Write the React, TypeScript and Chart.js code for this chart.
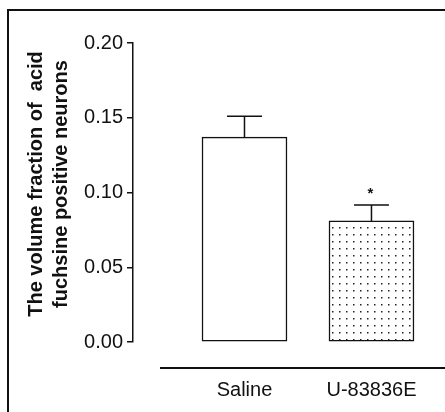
import React, { useEffect, useRef } from "react";
import { Chart, registerables } from "chart.js";

Chart.register(...registerables);

// ---- data ----
const categories = ["Saline", "U-83836E"];
const means = [0.137, 0.081];
const sems = [0.014, 0.0107];
const significance = ["", "*"];
const yTicks = [0, 0.05, 0.1, 0.15, 0.2];
const yTitleLines = ["The volume fraction of  acid", "fuchsine positive neurons"];

const FONT = '"Liberation Sans", Arial, Helvetica, sans-serif';
const INK = "#111111";

function makeDotPattern(ctx: CanvasRenderingContext2D) {
  const c = document.createElement("canvas");
  c.width = 7;
  c.height = 7;
  const g = c.getContext("2d")!;
  g.fillStyle = "#ffffff";
  g.fillRect(0, 0, 7, 7);
  g.fillStyle = "#222222";
  g.fillRect(3, 3, 1.5, 1.5);
  return ctx.createPattern(c, "repeat")!;
}

const errorBarPlugin = {
  id: "errorBars",
  afterDatasetsDraw(chart: any) {
    const { ctx, scales } = chart;
    const xs = scales.x;
    const ys = scales.y;
    ctx.save();
    ctx.strokeStyle = INK;
    ctx.lineWidth = 1.5;
    means.forEach((m, i) => {
      const x = xs.getPixelForValue(i);
      const yBar = ys.getPixelForValue(m);
      const yTop = ys.getPixelForValue(m + sems[i]);
      ctx.beginPath();
      ctx.moveTo(x, yBar);
      ctx.lineTo(x, yTop);
      ctx.moveTo(x - 17.5, yTop);
      ctx.lineTo(x + 17.5, yTop);
      ctx.stroke();
      if (significance[i]) {
        ctx.fillStyle = INK;
        ctx.font = `bold 15px ${FONT}`;
        ctx.textAlign = "center";
        ctx.textBaseline = "alphabetic";
        ctx.fillText(significance[i], x - 1, yTop - 7);
      }
    });
    ctx.restore();
  },
};

const decorPlugin = {
  id: "decor",
  afterDraw(chart: any) {
    const { ctx, chartArea, width } = chart;
    ctx.save();
    // detached baseline under the plot
    ctx.strokeStyle = INK;
    ctx.lineWidth = 2;
    const yl = chartArea.bottom + 26;
    ctx.beginPath();
    ctx.moveTo(chartArea.left + 27, yl);
    ctx.lineTo(width, yl);
    ctx.stroke();
    // y-axis title (two rotated lines)
    ctx.fillStyle = INK;
    ctx.font = `bold 20px ${FONT}`;
    ctx.textAlign = "center";
    ctx.textBaseline = "middle";
    const cy = 184;
    const xsPos = [36, 61];
    yTitleLines.forEach((line, i) => {
      ctx.save();
      ctx.translate(xsPos[i], cy);
      ctx.rotate(-Math.PI / 2);
      ctx.fillText(line, 0, 0);
      ctx.restore();
    });
    ctx.restore();
  },
};

export default function App() {
  const ref = useRef<HTMLCanvasElement>(null);
  useEffect(() => {
    const canvas = ref.current!;
    const ctx = canvas.getContext("2d")!;
    const dots = makeDotPattern(ctx);
    const chart = new Chart(ctx, {
      type: "bar",
      data: {
        datasets: [
          {
            data: means.map((m, i) => ({ x: i, y: m })),
            backgroundColor: ["#ffffff", dots],
            borderColor: INK,
            borderWidth: 1.5,
            borderSkipped: false,
            barThickness: 85,
          } as any,
        ],
      },
      options: {
        animation: false,
        responsive: false,
        devicePixelRatio: 1,
        layout: { padding: { top: 43, left: 0, right: 0, bottom: 0 } },
        plugins: { legend: { display: false }, tooltip: { enabled: false } },
        scales: {
          x: {
            type: "linear",
            min: -0.878,
            max: 1.579,
            offset: false,
            afterBuildTicks: (s: any) => {
              s.ticks = categories.map((_, i) => ({ value: i }));
            },
            afterFit: (s: any) => {
              s.height = 70;
              s.paddingLeft = 0;
              s.paddingRight = 0;
            },
            grid: { display: false, drawTicks: false },
            border: { display: false },
            ticks: {
              callback: (v: any) => categories[v] ?? "",
              font: { size: 20, family: FONT },
              color: INK,
              padding: 36,
              maxRotation: 0,
              autoSkip: false,
            },
          },
          y: {
            type: "linear",
            min: 0,
            max: 0.2,
            afterBuildTicks: (s: any) => {
              s.ticks = yTicks.map((v) => ({ value: v }));
            },
            afterFit: (s: any) => {
              s.width = 133;
            },
            grid: { drawOnChartArea: false, tickLength: 6, color: INK, lineWidth: 1.5 },
            border: { color: INK, width: 1.5 },
            ticks: {
              callback: (v: any) => Number(v).toFixed(2),
              padding: 4,
              font: { size: 20, family: FONT },
              color: INK,
            },
          },
        },
      },
      plugins: [errorBarPlugin, decorPlugin],
    });
    return () => chart.destroy();
  }, []);

  return (
    <div
      style={{
        position: "absolute",
        left: 0,
        top: 0,
        width: 445,
        height: 412,
        overflow: "hidden",
        background: "#ffffff",
      }}
    >
      <canvas ref={ref} width={445} height={412} style={{ display: "block" }} />
      <div
        style={{
          position: "absolute",
          left: 7,
          top: 9,
          width: 600,
          height: 600,
          borderTop: "2px solid #111",
          borderLeft: "2px solid #111",
          pointerEvents: "none",
        }}
      />
    </div>
  );
}
